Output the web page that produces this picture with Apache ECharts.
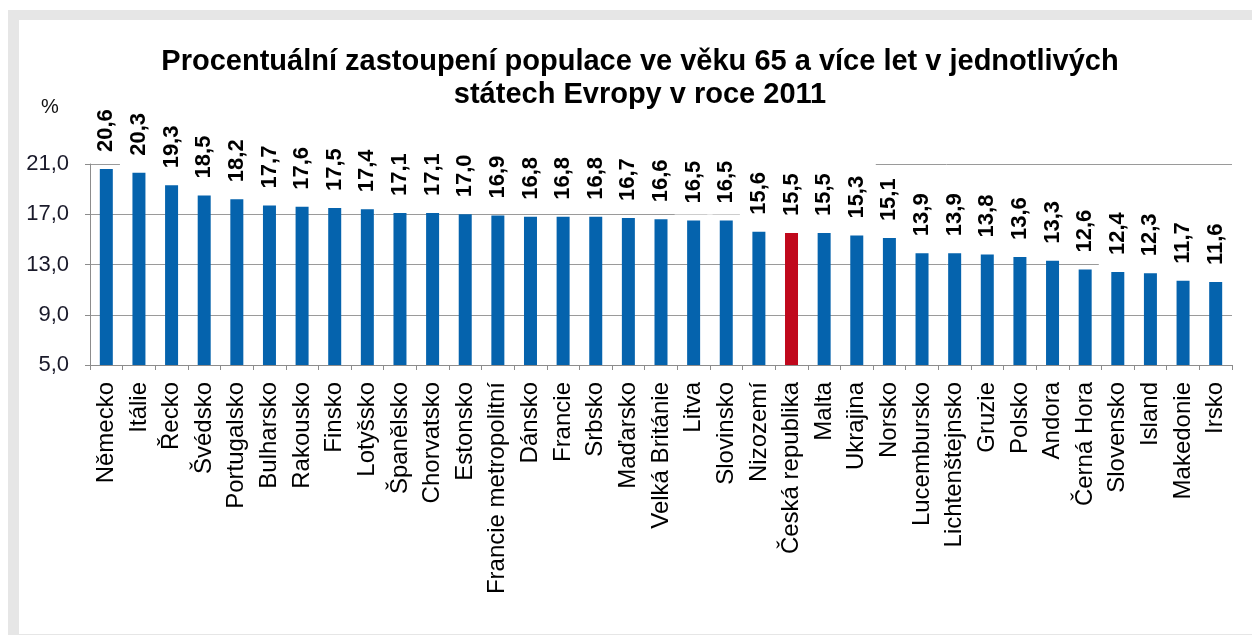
<!DOCTYPE html>
<html>
<head>
<meta charset="utf-8">
<title>Populace 65+</title>
<script src="https://cdn.jsdelivr.net/npm/echarts@6/dist/echarts.min.js"></script>
<style>
    html, body { margin: 0; padding: 0; background: #fff; }
    #frame {
        position: absolute; left: 8px; top: 10px; width: 1244px; height: 625px;
        box-sizing: border-box;
        border-top: 10px solid #e6e6e6;
        border-left: 11px solid #e6e6e6;
        border-bottom: 1px solid #e6e6e6;
    }
    #chart { position: absolute; left: 0; top: 0; width: 1252px; height: 635px; }
</style>
</head>
<body>
<div id="frame"></div>
<div id="chart"></div>
<script>
var states = ['Německo', 'Itálie', 'Řecko', 'Švédsko', 'Portugalsko', 'Bulharsko', 'Rakousko',
    'Finsko', 'Lotyšsko', 'Španělsko', 'Chorvatsko', 'Estonsko', 'Francie metropolitní', 'Dánsko',
    'Francie', 'Srbsko', 'Maďarsko', 'Velká Británie', 'Litva', 'Slovinsko', 'Nizozemí',
    'Česká republika', 'Malta', 'Ukrajina', 'Norsko', 'Lucembursko', 'Lichtenštejnsko', 'Gruzie',
    'Polsko', 'Andora', 'Černá Hora', 'Slovensko', 'Island', 'Makedonie', 'Irsko'];
var share65 = [20.6, 20.3, 19.3, 18.5, 18.2, 17.7, 17.6, 17.5, 17.4, 17.1, 17.1, 17.0, 16.9, 16.8,
    16.8, 16.8, 16.7, 16.6, 16.5, 16.5, 15.6, 15.5, 15.5, 15.3, 15.1, 13.9, 13.9, 13.8,
    13.6, 13.3, 12.6, 12.4, 12.3, 11.7, 11.6];
var highlighted = 'Česká republika';

var font = "'Liberation Sans', Arial, sans-serif";

var barData = share65.map(function (v, i) {
    var item = { value: v };
    if (states[i] === highlighted) {
        item.itemStyle = { color: '#c0081c' };
    }
    return item;
});

function czNum(v) {
    return Number(v).toFixed(1).replace('.', ',');
}

var mychart = echarts.init(document.getElementById('chart'));
var option = {
    animation: false,
    textStyle: { fontFamily: font },
    title: {
        text: 'Procentuální zastoupení populace ve věku 65 a více let v jednotlivých\nstátech Evropy v roce 2011',
        left: 635,
        top: 40,
        textAlign: 'center',
        textStyle: {
            fontFamily: font,
            fontSize: 29,
            fontWeight: 'bold',
            color: '#000',
            lineHeight: 33
        }
    },
    graphic: [{
        type: 'text',
        left: 41,
        top: 97,
        style: { text: '%', font: '20px ' + font, fill: '#111' }
    }],
    grid: {
        left: 90,
        right: 20,
        top: 164,
        bottom: 270
    },
    xAxis: {
        type: 'category',
        data: states,
        boundaryGap: true,
        axisLine: { lineStyle: { color: '#8c8c8c', width: 1 } },
        axisTick: { show: true, length: 5, lineStyle: { color: '#8c8c8c' } },
        axisLabel: {
            interval: 0,
            rotate: 90,
            margin: 17,
            fontSize: 24,
            fontFamily: font,
            color: '#000'
        }
    },
    yAxis: {
        type: 'value',
        min: 5,
        max: 21,
        interval: 4,
        axisLine: { show: true, lineStyle: { color: '#8c8c8c' } },
        axisTick: { show: true, length: 5, lineStyle: { color: '#8c8c8c' } },
        splitLine: { lineStyle: { color: '#9a9a9a', width: 1 } },
        axisLabel: {
            margin: 21,
            fontSize: 22,
            fontFamily: font,
            color: '#1a1a2a',
            formatter: czNum
        }
    },
    series: [{
        type: 'bar',
        data: barData,
        barWidth: 13,
        itemStyle: { color: '#0563ad' },
        label: {
            show: true,
            position: 'top',
            distance: 6,
            rotate: 90,
            align: 'left',
            verticalAlign: 'middle',
            fontFamily: font,
            fontSize: 22,
            fontWeight: 'bold',
            color: '#000',
            backgroundColor: '#fff',
            // white boxes hide the grid lines behind the labels, like the original
            padding: [8, 13, 8, 11],
            formatter: function (p) { return czNum(p.value); }
        }
    }]
};
mychart.setOption(option);
</script>
</body>
</html>
